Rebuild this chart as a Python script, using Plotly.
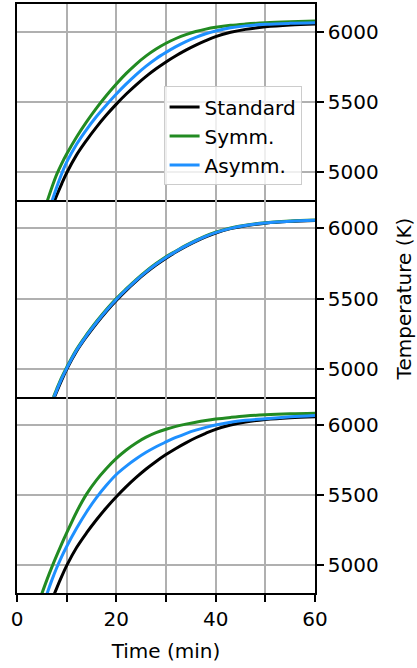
import plotly.graph_objects as go
from plotly.subplots import make_subplots

time_min = [4, 5, 6, 7, 8, 9, 10, 12, 14, 16, 18, 20, 22, 24, 26, 28, 30, 32, 34, 36, 38, 40, 43, 46, 50, 55, 60]

standard = [4450, 4555, 4653, 4747, 4835, 4918, 4995, 5124, 5228, 5322, 5408, 5486, 5558, 5624, 5684, 5738,
            5787, 5831, 5871, 5907, 5939, 5967, 5998, 6019, 6037, 6050, 6057]

# panel 1
symm_1 = [4560, 4675, 4785, 4890, 4985, 5062, 5130, 5252, 5360, 5458, 5548, 5630, 5705, 5772, 5830, 5879,
          5920, 5954, 5982, 6004, 6021, 6034, 6048, 6057, 6066, 6073, 6078]
asymm_1 = [4455, 4570, 4680, 4790, 4895, 4990, 5072, 5200, 5305, 5398, 5480, 5558, 5630, 5697, 5757, 5810,
           5855, 5896, 5932, 5962, 5988, 6008, 6030, 6044, 6055, 6062, 6066]

# panel 2
symm_2 = [4470, 4575, 4673, 4767, 4855, 4938, 5009, 5138, 5242, 5336, 5422, 5500, 5569, 5635, 5695, 5749,
          5798, 5839, 5879, 5915, 5947, 5973, 6003, 6023, 6040, 6053, 6059]
asymm_2 = [4460, 4565, 4663, 4757, 4845, 4928, 5002, 5131, 5235, 5329, 5415, 5493, 5564, 5630, 5690, 5744,
           5793, 5835, 5875, 5911, 5943, 5970, 6000, 6021, 6038, 6051, 6058]

# panel 3
symm_3 = [4695, 4795, 4892, 4983, 5068, 5150, 5228, 5378, 5505, 5605, 5688, 5760, 5820, 5870, 5911, 5943,
          5968, 5988, 6004, 6018, 6030, 6040, 6052, 6062, 6071, 6078, 6082]
asymm_3 = [4575, 4685, 4790, 4890, 4980, 5060, 5132, 5262, 5378, 5480, 5568, 5645, 5705, 5757, 5803, 5843,
           5877, 5909, 5937, 5961, 5981, 5998, 6018, 6031, 6043, 6056, 6066]

series_names = ["Standard", "Symm.", "Asymm."]
colors = ["#000000", "#228B22", "#1E90FF"]
panels = [
    [standard, symm_1, asymm_1],
    [standard, symm_2, asymm_2],
    [standard, symm_3, asymm_3],
]

x_ticks = [0, 10, 20, 30, 40, 50, 60]
x_ticktext = ["0", "", "20", "", "40", "", "60"]
y_ticks = [5000, 5500, 6000]

FONT = "DejaVu Sans"

fig = make_subplots(rows=3, cols=1, shared_xaxes=True, vertical_spacing=0)

for r, panel in enumerate(panels, start=1):
    for name, col, vals in zip(series_names, colors, panel):
        fig.add_trace(
            go.Scatter(
                x=time_min, y=vals, mode="lines", name=name,
                line=dict(color=col, width=3, shape="spline"),
                showlegend=(r == 1),
            ),
            row=r, col=1,
        )

for r in range(1, 4):
    fig.update_xaxes(
        range=[0, 60], tickvals=x_ticks, ticktext=x_ticktext,
        showgrid=True, gridcolor="#b0b0b0", gridwidth=1.6,
        showline=True, mirror=(r == 1), linecolor="black", linewidth=1.6,
        zeroline=False,
        ticks="outside" if r == 3 else "", ticklen=7, tickwidth=1.6, tickcolor="black",
        showticklabels=(r == 3),
        tickfont=dict(family=FONT, size=20, color="black"),
        row=r, col=1,
    )
    fig.update_yaxes(
        range=[4800, 6200], tickvals=y_ticks, side="right",
        showgrid=True, gridcolor="#b0b0b0", gridwidth=1.6,
        showline=True, mirror=True, linecolor="black", linewidth=1.6,
        zeroline=False,
        ticks="outside", ticklen=7, tickwidth=1.6, tickcolor="black",
        tickfont=dict(family=FONT, size=20, color="black"),
        row=r, col=1,
    )

fig.update_xaxes(title=dict(text="Time (min)", font=dict(family=FONT, size=20, color="black"), standoff=14),
                 row=3, col=1)
fig.update_yaxes(title=dict(text="Temperature (K)", font=dict(family=FONT, size=20, color="black"), standoff=19),
                 row=2, col=1)

fig.update_layout(
    width=417, height=668,
    margin=dict(l=17, r=102, t=2, b=75),
    paper_bgcolor="white", plot_bgcolor="white",
    font=dict(family=FONT, size=20, color="black"),
    legend=dict(
        x=0.955, xanchor="right", y=0.86, yanchor="top",
        bgcolor="rgba(255,255,255,0.8)", bordercolor="#cccccc", borderwidth=1,
        font=dict(family=FONT, size=20, color="black"),
        itemwidth=30,
    ),
)

fig.write_html("out.html")
